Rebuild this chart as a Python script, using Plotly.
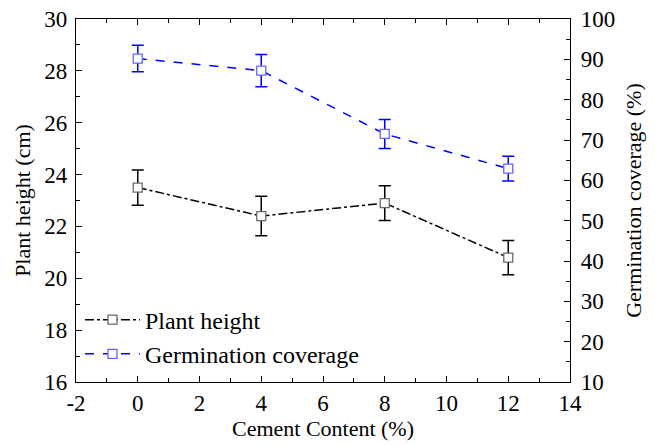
import plotly.graph_objects as go

# Cement content (%) for each mix
cement = [0, 4, 8, 12]

# Plant height (cm) with standard deviation
height = [23.5, 22.4, 22.9, 20.8]
height_err = [0.68, 0.76, 0.67, 0.66]

# Germination coverage (%) with standard deviation
coverage = [90.2, 87.2, 71.5, 62.9]
coverage_err = [3.3, 4.0, 3.6, 3.05]

# Tick labels on the cement axis (plain hyphen for the negative value)
x_ticks = [-2, 0, 2, 4, 6, 8, 10, 12, 14]
x_tick_text = [str(v) for v in x_ticks]

FONT = "Liberation Serif, Times New Roman, serif"
TITLE_FS = 22
TICK_FS = 23
LEGEND_FS = 24

fig = go.Figure()

fig.add_trace(go.Scatter(
    x=cement, y=height, name="Plant height", mode="lines+markers",
    line=dict(color="black", width=1.5, dash="dashdot"),
    marker=dict(symbol="square", size=9, color="white",
                line=dict(color="#6a6a6a", width=1.3)),
    error_y=dict(type="data", array=height_err, color="black",
                 thickness=1.5, width=6),
    yaxis="y",
))

fig.add_trace(go.Scatter(
    x=cement, y=coverage, name="Germination coverage", mode="lines+markers",
    line=dict(color="#0000ff", width=1.5, dash="dash"),
    marker=dict(symbol="square", size=9, color="white",
                line=dict(color="#6666ff", width=1.3)),
    error_y=dict(type="data", array=coverage_err, color="#0000ff",
                 thickness=1.5, width=6),
    yaxis="y2",
))

axis_common = dict(
    showline=True, linecolor="black", linewidth=1.3,
    ticks="inside", ticklen=6, tickwidth=1.3, tickcolor="black",
    showgrid=False, zeroline=False,
    tickfont=dict(family=FONT, size=TICK_FS, color="black"),
)

fig.update_layout(
    width=655, height=445,
    margin=dict(l=76, r=85, t=19, b=63, autoexpand=False),
    paper_bgcolor="white", plot_bgcolor="white",
    font=dict(family=FONT, size=TITLE_FS, color="black"),
    showlegend=True,
    legend=dict(
        x=0.008, y=0.015, xanchor="left", yanchor="bottom",
        bgcolor="rgba(0,0,0,0)", itemwidth=55,
        font=dict(family=FONT, size=LEGEND_FS, color="black"),
        tracegroupgap=0,
    ),
    xaxis=dict(
        range=[-2, 14], tickmode="array", tickvals=x_ticks, ticktext=x_tick_text,
        mirror="ticks",
        minor=dict(dtick=1, tick0=-2, ticks="inside", ticklen=4, tickcolor="black"),
        title=dict(text="Cement Content (%)", standoff=5,
                   font=dict(family=FONT, size=TITLE_FS)),
        **axis_common,
    ),
    yaxis=dict(
        range=[16, 30], dtick=2, ticklabelstandoff=3,
        minor=dict(dtick=1, ticks="inside", ticklen=4, tickcolor="black"),
        title=dict(text="Plant height (cm)", standoff=7,
                   font=dict(family=FONT, size=TITLE_FS)),
        **axis_common,
    ),
    yaxis2=dict(
        range=[10, 100], dtick=10, overlaying="y", side="right",
        ticklabelstandoff=5,
        minor=dict(dtick=5, ticks="inside", ticklen=4, tickcolor="black"),
        title=dict(text="Germination coverage (%)", standoff=11,
                   font=dict(family=FONT, size=TITLE_FS)),
        **axis_common,
    ),
)

fig.write_html("out.html")
